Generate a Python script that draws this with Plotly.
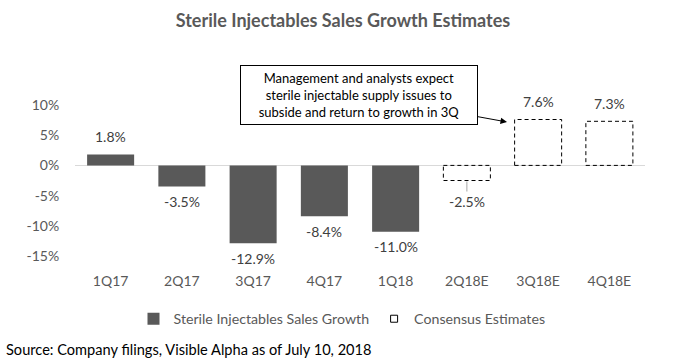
import plotly.graph_objects as go

categories = ["1Q17", "2Q17", "3Q17", "4Q17", "1Q18", "2Q18E", "3Q18E", "4Q18E"]
actual_values = [1.8, -3.5, -12.9, -8.4, -11.0, None, None, None]
estimate_values = [None, None, None, None, None, -2.5, 7.6, 7.3]
y_tickvals = [10, 5, 0, -5, -10, -15]
y_ticktext = ["10%", "5%", "0%", "-5%", "-10%", "-15%"]

FONT = "Lato"
GRAY = "#595959"
BAR_W = 0.66
PL, PR, PT, PB = 75, 645, 105, 256   # plot area in pixels


def px(x):
    return (x - PL) / (PR - PL)


def py(y):
    return (PB - y) / (PB - PT)


fig = go.Figure()
fig.add_trace(go.Bar(
    x=categories, y=actual_values, width=BAR_W,
    marker=dict(color=GRAY, line=dict(width=0)),
    name="Sterile Injectables Sales Growth",
))
fig.add_trace(go.Scatter(
    x=[None], y=[None], mode="markers",
    marker=dict(symbol="square-open", size=7, color="black", line=dict(width=1)),
    name="Consensus Estimates",
))

shapes = []
annotations = []
for i, v in enumerate(estimate_values):
    if v is None:
        continue
    shapes.append(dict(
        type="rect", xref="x", yref="y",
        x0=i - BAR_W / 2, x1=i + BAR_W / 2, y0=0, y1=v,
        line=dict(color="black", width=1, dash="4px,3px"),
        fillcolor="rgba(0,0,0,0)", layer="above",
    ))

for i, (a, e) in enumerate(zip(actual_values, estimate_values)):
    v = a if a is not None else e
    label = f"{v:.1f}%"
    if categories[i] == "2Q18E":
        annotations.append(dict(
            x=i, y=v, xref="x", yref="y", text=label, showarrow=True,
            arrowhead=0, arrowcolor="#a6a6a6", arrowwidth=1, ax=0, ay=21,
            standoff=1, font=dict(family=FONT, size=14, color="#404040"),
        ))
    else:
        annotations.append(dict(
            x=i, y=v, xref="x", yref="y", text=label, showarrow=False,
            yshift=18 if v > 0 else -15,
            font=dict(family=FONT, size=14, color="#404040"),
        ))

annotations.append(dict(
    x=px(507), y=py(122), xref="paper", yref="paper",
    text="Management and analysts expect<br>sterile injectable supply issues to<br>subside and return to growth in 3Q",
    showarrow=True, arrowhead=2, arrowsize=1.3, arrowwidth=1, arrowcolor="black",
    ax=-148, ay=-27, standoff=0,
    bordercolor="black", borderwidth=1, borderpad=4, bgcolor="white",
    width=228, align="center",
    font=dict(family=FONT, size=13, color="black"),
))

annotations.append(dict(
    x=px(4), y=py(349), xref="paper", yref="paper", xanchor="left", yanchor="middle",
    text="Source: Company filings, Visible Alpha as of July 10, 2018",
    showarrow=False, font=dict(family=FONT, size=14.6, color="black"),
))

fig.update_layout(
    width=679, height=361,
    margin=dict(l=PL, r=679 - PR, t=PT, b=361 - PB),
    paper_bgcolor="white", plot_bgcolor="white",
    title=dict(text="<b>Sterile Injectables Sales Growth Estimates</b>",
               x=343 / 679, xanchor="center", y=1 - 21 / 361, yanchor="middle",
               font=dict(family=FONT, size=18, color=GRAY)),
    showlegend=True,
    legend=dict(orientation="h", x=px(342), xanchor="center", y=py(319), yanchor="middle",
                font=dict(family=FONT, size=14.2, color=GRAY), itemwidth=30,
                tracegroupgap=0),
    shapes=shapes,
    annotations=annotations,
    font=dict(family=FONT),
)
fig.update_xaxes(type="category", showgrid=False, showline=False, zeroline=False,
                 ticks="outside", ticklen=12, tickcolor="rgba(0,0,0,0)",
                 tickfont=dict(family=FONT, size=14, color=GRAY))
fig.update_yaxes(range=[-15, 10], tickvals=y_tickvals, ticktext=y_ticktext,
                 showgrid=False, showline=False, zeroline=True,
                 zerolinecolor="#d9d9d9", zerolinewidth=1,
                 ticks="outside", ticklen=12, tickcolor="rgba(0,0,0,0)",
                 tickfont=dict(family=FONT, size=14, color=GRAY))

fig.write_html("out.html", config={"displayModeBar": False},
               post_script="document.body.style.margin='0';")
